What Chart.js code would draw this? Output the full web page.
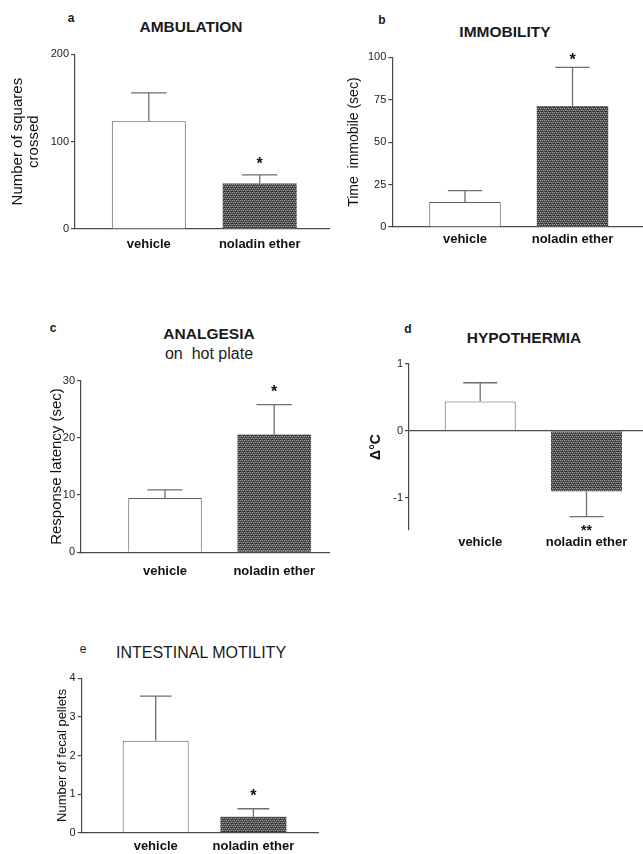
<!DOCTYPE html>
<html>
<head>
<meta charset="utf-8">
<script src="https://cdn.jsdelivr.net/npm/chart.js@4.4.1/dist/chart.umd.min.js"></script>
<style>
  html, body { margin: 0; padding: 0; background: #ffffff; }
  body { position: relative; width: 643px; height: 854px; overflow: hidden; font-family: "Liberation Sans", Arial, sans-serif; color: #111; }
  canvas { position: absolute; }
  .t { position: absolute; transform: translate(-50%, -50%); white-space: nowrap; line-height: 1; }
  .title { font-size: 15.5px; font-weight: bold; color: #1a1a1a; }
  .letter { font-size: 12px; font-weight: bold; color: #1a1a1a; }
</style>
</head>
<body>
<div class="t letter" style="left:71px;top:18px">a</div>
<div class="t title" style="left:191px;top:27px">AMBULATION</div>
<div class="t letter" style="left:382px;top:20px">b</div>
<div class="t title" style="left:505px;top:32px">IMMOBILITY</div>
<div class="t letter" style="left:53px;top:328px">c</div>
<div class="t title" style="left:209px;top:334px">ANALGESIA</div>
<div class="t title" style="left:209px;top:354px;font-weight:normal;font-size:16px">on&nbsp; hot plate</div>
<div class="t letter" style="left:408px;top:329px">d</div>
<div class="t title" style="left:524px;top:338px">HYPOTHERMIA</div>
<div class="t letter" style="left:83px;top:649px;font-weight:normal">e</div>
<div class="t title" style="left:201px;top:653px;font-weight:normal;font-size:16px">INTESTINAL MOTILITY</div>

<canvas id="cA"></canvas>
<canvas id="cB"></canvas>
<canvas id="cC"></canvas>
<canvas id="cD"></canvas>
<canvas id="cE"></canvas>

<script>
// ---------------- DATA ----------------
const categories = ['vehicle', 'noladin ether'];

const ambulationMean = [123.4, 52.2];
const ambulationSem  = [32.4, 9.8];
const ambulationTicks = [0, 100, 200];
const ambulationSig = ['', '*'];

const immobilityMean = [14.7, 71.3];
const immobilitySem  = [6.7, 22.8];
const immobilityTicks = [0, 25, 50, 75, 100];
const immobilitySig = ['', '*'];

const analgesiaMean = [9.5, 20.6];
const analgesiaSem  = [1.4, 5.2];
const analgesiaTicks = [0, 10, 20, 30];
const analgesiaSig = ['', '*'];

const hypothermiaMean = [0.44, -0.90];
const hypothermiaSem  = [0.28, 0.38];
const hypothermiaTicks = [-1, 0, 1];
const hypothermiaSig = ['', '**'];

const motilityMean = [2.38, 0.41];
const motilitySem  = [1.16, 0.21];
const motilityTicks = [0, 1, 2, 3, 4];
const motilitySig = ['', '*'];

// ---------------- STYLE / LAYOUT ----------------
const FONT = '"Liberation Sans", Arial, sans-serif';
const AXIS = '#4a4a4a';

function makePattern() {
  const c = document.createElement('canvas');
  c.width = 4; c.height = 4;
  const g = c.getContext('2d');
  g.fillStyle = '#505050'; g.fillRect(0, 0, 4, 4);
  g.fillStyle = '#a0a0a0';
  [[0,0],[2,0],[1,2],[3,2]].forEach(([x,y]) => g.fillRect(x, y, 1, 1));
  g.fillStyle = '#2e2e2e';
  [[1,1],[3,3],[0,3]].forEach(([x,y]) => g.fillRect(x, y, 1, 1));
  return g.createPattern(c, 'repeat');
}
const darkFill = makePattern();

const errPlugin = {
  id: 'errbars',
  afterDatasetsDraw(chart, args, opts) {
    const meta = chart.getDatasetMeta(0);
    const ys = chart.scales.y;
    const ctx = chart.ctx;
    ctx.save();
    ctx.strokeStyle = '#6e6e6e';
    ctx.lineWidth = 1.3;
    meta.data.forEach((bar, i) => {
      const v = opts.mean[i], e = opts.sem[i];
      const dir = v >= 0 ? 1 : -1;
      const y0 = ys.getPixelForValue(v);
      const y1 = ys.getPixelForValue(v + dir * e);
      const half = bar.width * 0.24;
      ctx.beginPath();
      ctx.moveTo(bar.x, y0); ctx.lineTo(bar.x, y1);
      ctx.moveTo(bar.x - half, y1); ctx.lineTo(bar.x + half, y1);
      ctx.stroke();
      const s = opts.sig[i];
      if (s) {
        const fs = opts.sigSize || 16;
        ctx.fillStyle = '#111';
        ctx.font = 'bold ' + fs + 'px ' + FONT;
        ctx.textAlign = 'center';
        ctx.textBaseline = 'alphabetic';
        const yc = y1 - dir * opts.sigGap;
        ctx.fillText(s, bar.x, yc + 0.58 * fs);
      }
    });
    ctx.restore();
  }
};

function panel(p) {
  const cv = document.getElementById(p.id);
  const [cl, ct, cw, ch] = p.canvas;
  cv.width = cw; cv.height = ch;
  cv.style.left = cl + 'px'; cv.style.top = ct + 'px';
  cv.style.width = cw + 'px'; cv.style.height = ch + 'px';
  const [al, at, ar, ab] = p.area;
  const unit = (p.centers[1] - p.centers[0]);
  const xmin = -(p.centers[0] - al) / unit;
  const xmax = 1 + (ar - p.centers[1]) / unit;
  const barPct = p.barW / unit;
  const data = p.mean.map((v, i) => ({ x: i, y: v }));

  new Chart(cv, {
    type: 'bar',
    data: {
      datasets: [{
        data: data,
        backgroundColor: ['#ffffff', darkFill],
        borderColor: ['#5a5a5a', 'rgba(0,0,0,0)'],
        borderWidth: [1, 0],
        borderSkipped: 'start',
        categoryPercentage: 1,
        barPercentage: barPct
      }]
    },
    options: {
      responsive: false,
      animation: false,
      layout: { padding: { left: 0, top: at - ct, right: (cl + cw) - ar, bottom: 0 } },
      plugins: {
        legend: { display: false },
        tooltip: { enabled: false },
        errbars: { mean: p.mean, sem: p.sem, sig: p.sig, sigGap: p.sigGap, sigSize: p.sigSize }
      },
      scales: {
        x: {
          type: 'linear',
          offset: false,
          bounds: 'data',
          min: xmin, max: xmax,
          afterBuildTicks: s => { s.ticks = categories.map((c, i) => ({ value: i })); },
          afterFit: s => { s.height = (ct + ch) - ab; },
          grid: { display: false, offset: false, drawTicks: false, tickLength: 0 },
          border: { display: p.xBorder !== false, color: AXIS, width: 1.2 },
          ticks: {
            autoSkip: false, maxRotation: 0, padding: p.xPad,
            color: '#111',
            font: { family: FONT, size: 13, weight: 'bold' },
            callback: v => categories[v]
          }
        },
        y: {
          type: 'linear',
          min: p.ymin, max: p.ymax,
          afterBuildTicks: s => { s.ticks = p.ticks.map(v => ({ value: v })); },
          afterFit: s => { s.width = al - cl; },
          grid: {
            drawOnChartArea: true,
            color: ctx => (p.zeroLine && ctx.tick && ctx.tick.value === 0) ? AXIS : 'rgba(0,0,0,0)',
            lineWidth: 1.2,
            tickColor: AXIS,
            tickLength: 4,
            drawTicks: true
          },
          border: { display: true, color: AXIS, width: 1.2 },
          ticks: {
            padding: 2, color: '#222',
            font: { family: FONT, size: 11 },
            callback: v => String(v)
          },
          title: {
            display: true,
            text: p.ytitle,
            color: '#111',
            font: { family: FONT, size: p.ytSize, weight: p.ytWeight || 'normal', lineHeight: 1.05 },
            padding: { top: p.ytPad, bottom: 0 }
          }
        }
      }
    },
    plugins: [errPlugin]
  });
}

panel({
  id: 'cA', canvas: [0, 0, 330, 262], area: [75, 54.3, 330, 229],
  centers: [148.8, 259.7], barW: 74,
  mean: ambulationMean, sem: ambulationSem, sig: ambulationSig, ticks: ambulationTicks,
  ymin: 0, ymax: 200, sigGap: 14.7, xPad: 8,
  ytitle: ['Number of squares', 'crossed'], ytSize: 15, ytPad: 10
});

panel({
  id: 'cB', canvas: [330, 0, 313, 262], area: [392.3, 57.3, 643, 227],
  centers: [465, 572.5], barW: 71.5,
  mean: immobilityMean, sem: immobilitySem, sig: immobilitySig, ticks: immobilityTicks,
  ymin: 0, ymax: 100, sigGap: 12, xPad: 5,
  ytitle: 'Time  immobile (sec)', ytSize: 14, ytPad: 17
});

panel({
  id: 'cC', canvas: [0, 300, 330, 290], area: [81, 380.7, 330, 552.3],
  centers: [165, 274.2], barW: 73.5,
  mean: analgesiaMean, sem: analgesiaSem, sig: analgesiaSig, ticks: analgesiaTicks,
  ymin: 0, ymax: 30, sigGap: 17, xPad: 11,
  ytitle: 'Response latency (sec)', ytSize: 15, ytPad: 49
});

panel({
  id: 'cD', canvas: [330, 300, 313, 262], area: [409, 364, 643, 530],
  centers: [480.2, 586.5], barW: 71,
  mean: hypothermiaMean, sem: hypothermiaSem, sig: hypothermiaSig, ticks: hypothermiaTicks,
  ymin: -1.48, ymax: 1, sigGap: 10, sigSize: 14, xPad: 5, xBorder: false, zeroLine: true,
  ytitle: 'Δ°C', ytSize: 14, ytWeight: 'bold', ytPad: 39
});

panel({
  id: 'cE', canvas: [0, 620, 330, 234], area: [81.7, 678.3, 318, 832.7],
  centers: [155.7, 253.4], barW: 66,
  mean: motilityMean, sem: motilitySem, sig: motilitySig, ticks: motilityTicks,
  ymin: 0, ymax: 4, sigGap: 17, xPad: 6,
  ytitle: 'Number of fecal pellets', ytSize: 13, ytPad: 56
});
</script>
</body>
</html>
